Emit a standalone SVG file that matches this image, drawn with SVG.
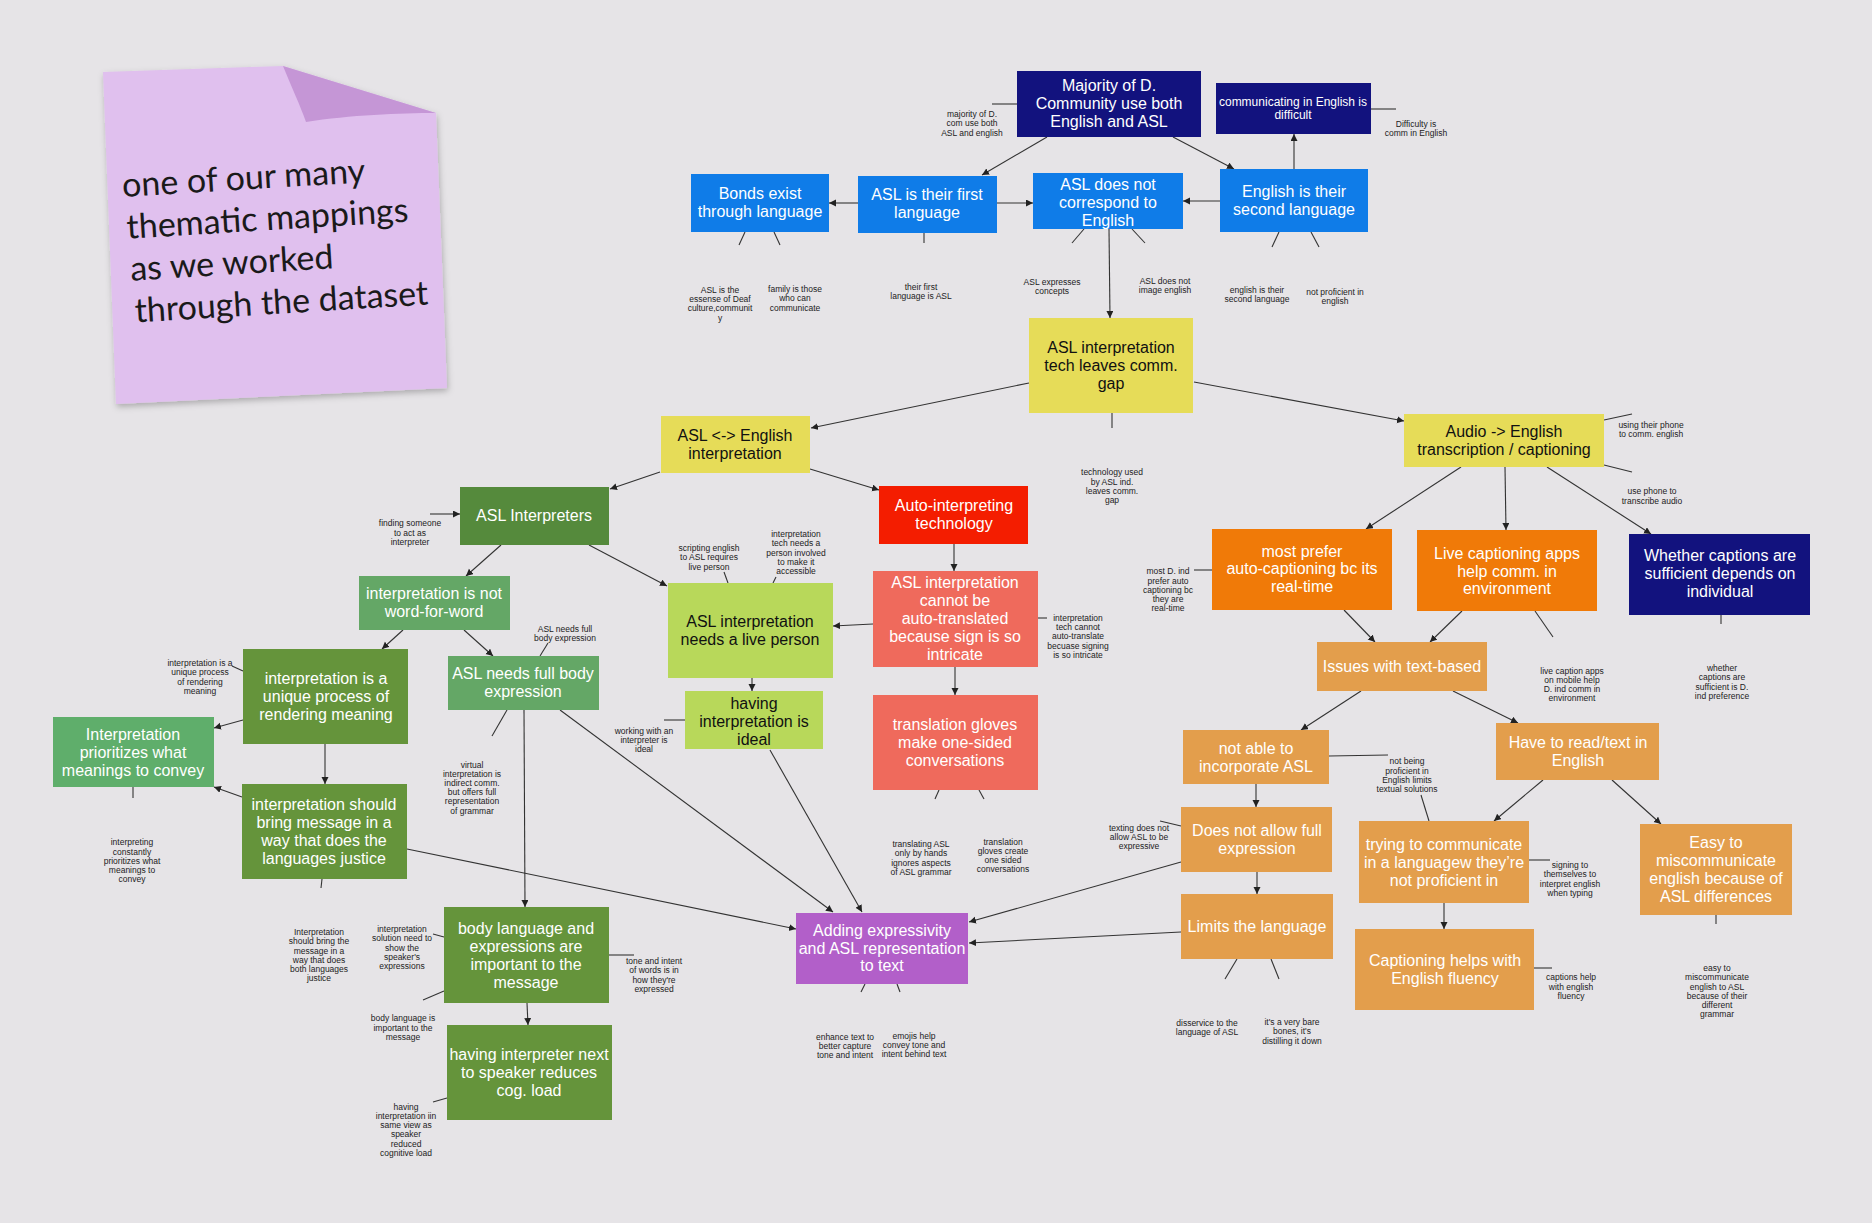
<svg xmlns="http://www.w3.org/2000/svg" width="1872" height="1223" viewBox="0 0 1872 1223">
<style>
.bg{fill:#e6e4e7}
.n rect{stroke:none}
.navy{fill:#12127e}.blue{fill:#0f7ce8}.yel{fill:#e6dc58}.dg{fill:#558a3c}.mg{fill:#64a766}.lg{fill:#5fae6b}.og{fill:#65943b}.yg{fill:#b8d85a}.red{fill:#f41d00}.sal{fill:#ef6a5c}.org{fill:#f07a08}.lor{fill:#e39e4c}.pur{fill:#b25fc9}
.t{font-family:"Liberation Sans",Arial,sans-serif;font-size:16px;text-anchor:middle;fill:#fff}
.t.k{fill:#111}
.t.s{font-size:12px}
.lb{font-family:"Liberation Sans",Arial,sans-serif;font-size:8.5px;text-anchor:middle;fill:#222}
.c line{stroke:#333;stroke-width:1.1;fill:none}
.c .a{marker-end:url(#ah)}
.note{font-family:Lato,"Open Sans",sans-serif;font-size:34px;fill:#1a1a1a}
</style>
<defs>
<marker id="ah" markerWidth="8" markerHeight="8" refX="7" refY="3.5" orient="auto" markerUnits="userSpaceOnUse"><path d="M0,0 L7,3.5 L0,7 Z" fill="#222"/></marker>
<filter id="sh" x="-10%" y="-10%" width="130%" height="130%"><feDropShadow dx="1" dy="3" stdDeviation="3" flood-color="#000" flood-opacity="0.25"/></filter>
</defs>
<rect class="bg" x="0" y="0" width="1872" height="1223"/>

<g id="sticky-note">
<path d="M103,72 L283,66 L436,113 L447,388 L116,404 Z" fill="#e0c0ee" filter="url(#sh)"/>
<path d="M283,66 C292,88 300,105 306,122 C350,115 400,113 436,113 Z" fill="#c596d6"/>
<g transform="rotate(-3.5 125 250)">
<text class="note" x="126" y="197">one of our many</text>
<text class="note" x="128" y="239">thematic mappings</text>
<text class="note" x="129" y="281">as we worked</text>
<text class="note" x="131" y="323">through the dataset</text>
</g>
</g>

<g id="connectors" class="c">
<line class="a" x1="1047" y1="137" x2="982" y2="175"/>
<line class="a" x1="1173" y1="137" x2="1234" y2="169"/>
<line class="a" x1="858" y1="203" x2="829" y2="203"/>
<line class="a" x1="997" y1="203" x2="1033" y2="203"/>
<line class="a" x1="1220" y1="201" x2="1183" y2="201"/>
<line class="a" x1="1294" y1="169" x2="1294" y2="134"/>
<line class="a" x1="1109" y1="229" x2="1110" y2="318"/>
<line class="a" x1="1029" y1="383" x2="811" y2="428"/>
<line class="a" x1="1194" y1="382" x2="1404" y2="421"/>
<line class="a" x1="810" y1="469" x2="879" y2="490"/>
<line class="a" x1="660" y1="472" x2="610" y2="489"/>
<line class="a" x1="430" y1="514" x2="460" y2="514"/>
<line class="a" x1="501" y1="545" x2="466" y2="576"/>
<line class="a" x1="589" y1="545" x2="667" y2="586"/>
<line class="a" x1="954" y1="544" x2="954" y2="571"/>
<line class="a" x1="873" y1="624" x2="833" y2="626"/>
<line class="a" x1="955" y1="667" x2="955" y2="695"/>
<line class="a" x1="403" y1="630" x2="382" y2="649"/>
<line class="a" x1="464" y1="630" x2="493" y2="656"/>
<line class="a" x1="752" y1="678" x2="752" y2="691"/>
<line class="a" x1="243" y1="720" x2="214" y2="728"/>
<line class="a" x1="325" y1="744" x2="325" y2="784"/>
<line class="a" x1="242" y1="797" x2="214" y2="787"/>
<line class="a" x1="407" y1="849" x2="796" y2="929"/>
<line class="a" x1="524" y1="710" x2="525" y2="907"/>
<line class="a" x1="560" y1="710" x2="833" y2="912"/>
<line class="a" x1="770" y1="750" x2="862" y2="912"/>
<line class="a" x1="527" y1="1003" x2="528" y2="1025"/>
<line class="a" x1="1181" y1="862" x2="969" y2="922"/>
<line class="a" x1="1181" y1="932" x2="969" y2="943"/>
<line class="a" x1="1257" y1="872" x2="1257" y2="894"/>
<line class="a" x1="1461" y1="467" x2="1366" y2="529"/>
<line class="a" x1="1505" y1="467" x2="1506" y2="530"/>
<line class="a" x1="1547" y1="467" x2="1651" y2="534"/>
<line class="a" x1="1344" y1="610" x2="1375" y2="642"/>
<line class="a" x1="1462" y1="611" x2="1430" y2="642"/>
<line class="a" x1="1361" y1="691" x2="1301" y2="730"/>
<line class="a" x1="1453" y1="691" x2="1518" y2="723"/>
<line class="a" x1="1256" y1="784" x2="1256" y2="807"/>
<line class="a" x1="1543" y1="780" x2="1494" y2="821"/>
<line class="a" x1="1612" y1="780" x2="1661" y2="824"/>
<line class="a" x1="1444" y1="903" x2="1444" y2="929"/>
<line x1="992" y1="104" x2="1017" y2="104"/>
<line x1="1371" y1="109" x2="1396" y2="109"/>
<line x1="745" y1="232" x2="739" y2="245"/>
<line x1="774" y1="232" x2="780" y2="245"/>
<line x1="924" y1="233" x2="924" y2="243"/>
<line x1="1084" y1="229" x2="1072" y2="243"/>
<line x1="1132" y1="229" x2="1145" y2="243"/>
<line x1="1279" y1="232" x2="1272" y2="247"/>
<line x1="1311" y1="232" x2="1319" y2="247"/>
<line x1="1112" y1="413" x2="1112" y2="428"/>
<line x1="1604" y1="420" x2="1632" y2="414"/>
<line x1="1604" y1="465" x2="1632" y2="472"/>
<line x1="1212" y1="570" x2="1194" y2="570"/>
<line x1="1535" y1="611" x2="1553" y2="637"/>
<line x1="1721" y1="615" x2="1721" y2="624"/>
<line x1="1038" y1="618" x2="1047" y2="618"/>
<line x1="728" y1="583" x2="724" y2="572"/>
<line x1="773" y1="583" x2="776" y2="577"/>
<line x1="540" y1="656" x2="548" y2="643"/>
<line x1="685" y1="720" x2="664" y2="720"/>
<line x1="939" y1="790" x2="935" y2="799"/>
<line x1="979" y1="790" x2="984" y2="799"/>
<line x1="507" y1="710" x2="492" y2="736"/>
<line x1="232" y1="666" x2="243" y2="671"/>
<line x1="133" y1="787" x2="133" y2="798"/>
<line x1="322" y1="879" x2="321" y2="888"/>
<line x1="433" y1="934" x2="444" y2="937"/>
<line x1="444" y1="991" x2="423" y2="1000"/>
<line x1="609" y1="955" x2="634" y2="955"/>
<line x1="447" y1="1098" x2="433" y2="1102"/>
<line x1="1329" y1="756" x2="1388" y2="755"/>
<line x1="1421" y1="795" x2="1429" y2="821"/>
<line x1="1181" y1="826" x2="1160" y2="821"/>
<line x1="1529" y1="860" x2="1550" y2="860"/>
<line x1="1716" y1="915" x2="1716" y2="924"/>
<line x1="1534" y1="968" x2="1552" y2="968"/>
<line x1="1237" y1="959" x2="1225" y2="979"/>
<line x1="1271" y1="959" x2="1279" y2="979"/>
<line x1="865" y1="984" x2="861" y2="992"/>
<line x1="897" y1="984" x2="900" y2="992"/>
</g>

<g id="n-majority" class="n"><rect class="navy" x="1017" y="71" width="184" height="66"/>
<text class="t" x="1109" y="91">Majority of D.</text><text class="t" x="1109" y="109">Community use both</text><text class="t" x="1109" y="127">English and ASL</text></g>
<g id="n-comm-difficult" class="n"><rect class="navy" x="1216" y="83" width="155" height="51"/>
<text class="t s" x="1293" y="106">communicating in English is</text><text class="t s" x="1293" y="119">difficult</text></g>
<g id="n-bonds" class="n"><rect class="blue" x="691" y="174" width="138" height="58"/>
<text class="t" x="760" y="199">Bonds exist</text><text class="t" x="760" y="217">through language</text></g>
<g id="n-asl-first" class="n"><rect class="blue" x="858" y="176" width="139" height="57"/>
<text class="t" x="927" y="200">ASL is their first</text><text class="t" x="927" y="218">language</text></g>
<g id="n-asl-not-correspond" class="n"><rect class="blue" x="1033" y="173" width="150" height="56"/>
<text class="t" x="1108" y="190">ASL does not</text><text class="t" x="1108" y="208">correspond to</text><text class="t" x="1108" y="226">English</text></g>
<g id="n-english-second" class="n"><rect class="blue" x="1220" y="169" width="148" height="63"/>
<text class="t" x="1294" y="197">English is their</text><text class="t" x="1294" y="215">second language</text></g>
<g id="n-tech-gap" class="n"><rect class="yel" x="1029" y="318" width="164" height="95"/>
<text class="t k" x="1111" y="353">ASL interpretation</text><text class="t k" x="1111" y="371">tech leaves comm.</text><text class="t k" x="1111" y="389">gap</text></g>
<g id="n-asl-english" class="n"><rect class="yel" x="661" y="416" width="149" height="57"/>
<text class="t k" x="735" y="441">ASL &lt;-&gt; English</text><text class="t k" x="735" y="459">interpretation</text></g>
<g id="n-audio" class="n"><rect class="yel" x="1404" y="414" width="200" height="53"/>
<text class="t k" x="1504" y="437">Audio -&gt; English</text><text class="t k" x="1504" y="455">transcription / captioning</text></g>
<g id="n-auto-interp" class="n"><rect class="red" x="879" y="486" width="149" height="58"/>
<text class="t" x="954" y="511">Auto-interpreting</text><text class="t" x="954" y="529">technology</text></g>
<g id="n-asl-interpreters" class="n"><rect class="dg" x="460" y="487" width="149" height="58"/>
<text class="t" x="534" y="521">ASL Interpreters</text></g>
<g id="n-not-word" class="n"><rect class="mg" x="359" y="576" width="151" height="54"/>
<text class="t" x="434" y="599">interpretation is not</text><text class="t" x="434" y="617">word-for-word</text></g>
<g id="n-live-person" class="n"><rect class="yg" x="668" y="583" width="165" height="95"/>
<text class="t k" x="750" y="627">ASL interpretation</text><text class="t k" x="750" y="645">needs a live person</text></g>
<g id="n-cannot-auto" class="n"><rect class="sal" x="873" y="571" width="165" height="96"/>
<text class="t" x="955" y="588">ASL interpretation</text><text class="t" x="955" y="606">cannot be</text><text class="t" x="955" y="624">auto-translated</text><text class="t" x="955" y="642">because sign is so</text><text class="t" x="955" y="660">intricate</text></g>
<g id="n-unique" class="n"><rect class="og" x="243" y="649" width="165" height="95"/>
<text class="t" x="326" y="684">interpretation is a</text><text class="t" x="326" y="702">unique process of</text><text class="t" x="326" y="720">rendering meaning</text></g>
<g id="n-full-body" class="n"><rect class="mg" x="448" y="656" width="151" height="54"/>
<text class="t" x="523" y="679">ASL needs full body</text><text class="t" x="523" y="697">expression</text></g>
<g id="n-ideal" class="n"><rect class="yg" x="685" y="691" width="138" height="58"/>
<text class="t k" x="754" y="709">having</text><text class="t k" x="754" y="727">interpretation is</text><text class="t k" x="754" y="745">ideal</text></g>
<g id="n-gloves" class="n"><rect class="sal" x="873" y="695" width="165" height="95"/>
<text class="t" x="955" y="730">translation gloves</text><text class="t" x="955" y="748">make one-sided</text><text class="t" x="955" y="766">conversations</text></g>
<g id="n-prioritizes" class="n"><rect class="lg" x="53" y="717" width="161" height="70"/>
<text class="t" x="133" y="740">Interpretation</text><text class="t" x="133" y="758">prioritizes what</text><text class="t" x="133" y="776">meanings to convey</text></g>
<g id="n-justice" class="n"><rect class="og" x="242" y="784" width="165" height="95"/>
<text class="t" x="324" y="810">interpretation should</text><text class="t" x="324" y="828">bring message in a</text><text class="t" x="324" y="846">way that does the</text><text class="t" x="324" y="864">languages justice</text></g>
<g id="n-body-language" class="n"><rect class="og" x="444" y="907" width="165" height="96"/>
<text class="t" x="526" y="934">body language and</text><text class="t" x="526" y="952">expressions are</text><text class="t" x="526" y="970">important to the</text><text class="t" x="526" y="988">message</text></g>
<g id="n-next-to-speaker" class="n"><rect class="og" x="447" y="1025" width="165" height="95"/>
<text class="t" x="529" y="1060">having interpreter next</text><text class="t" x="529" y="1078">to speaker reduces</text><text class="t" x="529" y="1096">cog. load</text></g>
<g id="n-adding" class="n"><rect class="pur" x="796" y="913" width="172" height="71"/>
<text class="t" x="882" y="936">Adding expressivity</text><text class="t" x="882" y="954">and ASL representation</text><text class="t" x="882" y="971">to text</text></g>
<g id="n-most-prefer" class="n"><rect class="org" x="1212" y="529" width="180" height="81"/>
<text class="t" x="1302" y="557">most prefer</text><text class="t" x="1302" y="574">auto-captioning bc its</text><text class="t" x="1302" y="592">real-time</text></g>
<g id="n-live-captioning" class="n"><rect class="org" x="1417" y="530" width="180" height="81"/>
<text class="t" x="1507" y="559">Live captioning apps</text><text class="t" x="1507" y="577">help comm. in</text><text class="t" x="1507" y="594">environment</text></g>
<g id="n-whether" class="n"><rect class="navy" x="1629" y="534" width="181" height="81"/>
<text class="t" x="1720" y="561">Whether captions are</text><text class="t" x="1720" y="579">sufficient depends on</text><text class="t" x="1720" y="597">individual</text></g>
<g id="n-issues" class="n"><rect class="lor" x="1317" y="642" width="170" height="49"/>
<text class="t" x="1402" y="672">Issues with text-based</text></g>
<g id="n-not-able" class="n"><rect class="lor" x="1183" y="730" width="146" height="54"/>
<text class="t" x="1256" y="754">not able to</text><text class="t" x="1256" y="772">incorporate ASL</text></g>
<g id="n-read-text" class="n"><rect class="lor" x="1496" y="723" width="163" height="57"/>
<text class="t" x="1578" y="748">Have to read/text in</text><text class="t" x="1578" y="766">English</text></g>
<g id="n-full-expression" class="n"><rect class="lor" x="1181" y="807" width="151" height="65"/>
<text class="t" x="1257" y="836">Does not allow full</text><text class="t" x="1257" y="854">expression</text></g>
<g id="n-trying" class="n"><rect class="lor" x="1359" y="821" width="170" height="82"/>
<text class="t" x="1444" y="850">trying to communicate</text><text class="t" x="1444" y="868">in a languagew they’re</text><text class="t" x="1444" y="886">not proficient in</text></g>
<g id="n-easy" class="n"><rect class="lor" x="1640" y="824" width="152" height="91"/>
<text class="t" x="1716" y="848">Easy to</text><text class="t" x="1716" y="866">miscommunicate</text><text class="t" x="1716" y="884">english because of</text><text class="t" x="1716" y="902">ASL differences</text></g>
<g id="n-limits" class="n"><rect class="lor" x="1181" y="894" width="152" height="65"/>
<text class="t" x="1257" y="932">Limits the language</text></g>
<g id="n-fluency" class="n"><rect class="lor" x="1355" y="929" width="179" height="81"/>
<text class="t" x="1445" y="966">Captioning helps with</text><text class="t" x="1445" y="984">English fluency</text></g>

<g id="labels">
<text class="lb" x="972" y="117">majority of D.</text><text class="lb" x="972" y="126">com use both</text><text class="lb" x="972" y="136">ASL and english</text>
<text class="lb" x="1416" y="127">Difficulty is</text><text class="lb" x="1416" y="136">comm in English</text>
<text class="lb" x="720" y="293">ASL is the</text><text class="lb" x="720" y="302">essense of Deaf</text><text class="lb" x="720" y="311">culture,communit</text><text class="lb" x="720" y="321">y</text>
<text class="lb" x="795" y="292">family is those</text><text class="lb" x="795" y="301">who can</text><text class="lb" x="795" y="311">communicate</text>
<text class="lb" x="921" y="290">their first</text><text class="lb" x="921" y="299">language is ASL</text>
<text class="lb" x="1052" y="285">ASL expresses</text><text class="lb" x="1052" y="294">concepts</text>
<text class="lb" x="1165" y="284">ASL does not</text><text class="lb" x="1165" y="293">image english</text>
<text class="lb" x="1257" y="293">english is their</text><text class="lb" x="1257" y="302">second language</text>
<text class="lb" x="1335" y="295">not proficient in</text><text class="lb" x="1335" y="304">english</text>
<text class="lb" x="1112" y="475">technology used</text><text class="lb" x="1112" y="485">by ASL ind.</text><text class="lb" x="1112" y="494">leaves comm.</text><text class="lb" x="1112" y="503">gap</text>
<text class="lb" x="1651" y="428">using their phone</text><text class="lb" x="1651" y="437">to comm. english</text>
<text class="lb" x="1652" y="494">use phone to</text><text class="lb" x="1652" y="504">transcribe audio</text>
<text class="lb" x="709" y="551">scripting english</text><text class="lb" x="709" y="560">to ASL requires</text><text class="lb" x="709" y="570">live person</text>
<text class="lb" x="796" y="537">interpretation</text><text class="lb" x="796" y="546">tech needs a</text><text class="lb" x="796" y="556">person involved</text><text class="lb" x="796" y="565">to make it</text><text class="lb" x="796" y="574">accessible</text>
<text class="lb" x="410" y="526">finding someone</text><text class="lb" x="410" y="536">to act as</text><text class="lb" x="410" y="545">interpreter</text>
<text class="lb" x="565" y="632">ASL needs full</text><text class="lb" x="565" y="641">body expression</text>
<text class="lb" x="1168" y="574">most D. ind</text><text class="lb" x="1168" y="584">prefer auto</text><text class="lb" x="1168" y="593">captioning bc</text><text class="lb" x="1168" y="602">they are</text><text class="lb" x="1168" y="611">real-time</text>
<text class="lb" x="1078" y="621">interpretation</text><text class="lb" x="1078" y="630">tech cannot</text><text class="lb" x="1078" y="639">auto-translate</text><text class="lb" x="1078" y="649">becuase signing</text><text class="lb" x="1078" y="658">is so intricate</text>
<text class="lb" x="1572" y="674">live caption apps</text><text class="lb" x="1572" y="683">on mobile help</text><text class="lb" x="1572" y="692">D. ind comm in</text><text class="lb" x="1572" y="701">environment</text>
<text class="lb" x="1722" y="671">whether</text><text class="lb" x="1722" y="680">captions are</text><text class="lb" x="1722" y="690">sufficient is D.</text><text class="lb" x="1722" y="699">ind preference</text>
<text class="lb" x="200" y="666">interpretation is a</text><text class="lb" x="200" y="675">unique process</text><text class="lb" x="200" y="685">of rendering</text><text class="lb" x="200" y="694">meaning</text>
<text class="lb" x="644" y="734">working with an</text><text class="lb" x="644" y="743">interpreter is</text><text class="lb" x="644" y="752">ideal</text>
<text class="lb" x="1407" y="764">not being</text><text class="lb" x="1407" y="774">proficient in</text><text class="lb" x="1407" y="783">English limits</text><text class="lb" x="1407" y="792">textual solutions</text>
<text class="lb" x="472" y="768">virtual</text><text class="lb" x="472" y="777">interpretation is</text><text class="lb" x="472" y="786">indirect comm.</text><text class="lb" x="472" y="795">but offers full</text><text class="lb" x="472" y="804">representation</text><text class="lb" x="472" y="814">of grammar</text>
<text class="lb" x="1139" y="831">texting does not</text><text class="lb" x="1139" y="840">allow ASL to be</text><text class="lb" x="1139" y="849">expressive</text>
<text class="lb" x="132" y="845">interpreting</text><text class="lb" x="132" y="855">constantly</text><text class="lb" x="132" y="864">prioritizes what</text><text class="lb" x="132" y="873">meanings to</text><text class="lb" x="132" y="882">convey</text>
<text class="lb" x="921" y="847">translating ASL</text><text class="lb" x="921" y="856">only by hands</text><text class="lb" x="921" y="866">ignores aspects</text><text class="lb" x="921" y="875">of ASL grammar</text>
<text class="lb" x="1003" y="845">translation</text><text class="lb" x="1003" y="854">gloves create</text><text class="lb" x="1003" y="863">one sided</text><text class="lb" x="1003" y="872">conversations</text>
<text class="lb" x="1570" y="868">signing to</text><text class="lb" x="1570" y="877">themselves to</text><text class="lb" x="1570" y="887">interpret english</text><text class="lb" x="1570" y="896">when typing</text>
<text class="lb" x="319" y="935">Interpretation</text><text class="lb" x="319" y="944">should bring the</text><text class="lb" x="319" y="954">message in a</text><text class="lb" x="319" y="963">way that does</text><text class="lb" x="319" y="972">both languages</text><text class="lb" x="319" y="981">justice</text>
<text class="lb" x="402" y="932">interpretation</text><text class="lb" x="402" y="941">solution need to</text><text class="lb" x="402" y="951">show the</text><text class="lb" x="402" y="960">speaker's</text><text class="lb" x="402" y="969">expressions</text>
<text class="lb" x="654" y="964">tone and intent</text><text class="lb" x="654" y="973">of words is in</text><text class="lb" x="654" y="983">how they're</text><text class="lb" x="654" y="992">expressed</text>
<text class="lb" x="1717" y="971">easy to</text><text class="lb" x="1717" y="980">miscommunicate</text><text class="lb" x="1717" y="990">english to ASL</text><text class="lb" x="1717" y="999">because of their</text><text class="lb" x="1717" y="1008">different</text><text class="lb" x="1717" y="1017">grammar</text>
<text class="lb" x="1571" y="980">captions help</text><text class="lb" x="1571" y="990">with english</text><text class="lb" x="1571" y="999">fluency</text>
<text class="lb" x="403" y="1021">body language is</text><text class="lb" x="403" y="1031">important to the</text><text class="lb" x="403" y="1040">message</text>
<text class="lb" x="1207" y="1026">disservice to the</text><text class="lb" x="1207" y="1035">language of ASL</text>
<text class="lb" x="1292" y="1025">it's a very bare</text><text class="lb" x="1292" y="1034">bones, it's</text><text class="lb" x="1292" y="1044">distilling it down</text>
<text class="lb" x="845" y="1040">enhance text to</text><text class="lb" x="845" y="1049">better capture</text><text class="lb" x="845" y="1058">tone and intent</text>
<text class="lb" x="914" y="1039">emojis help</text><text class="lb" x="914" y="1048">convey tone and</text><text class="lb" x="914" y="1057">intent behind text</text>
<text class="lb" x="406" y="1110">having</text><text class="lb" x="406" y="1119">interpretation iin</text><text class="lb" x="406" y="1128">same view as</text><text class="lb" x="406" y="1137">speaker</text><text class="lb" x="406" y="1147">reduced</text><text class="lb" x="406" y="1156">cognitive load</text>
</g>
</svg>
